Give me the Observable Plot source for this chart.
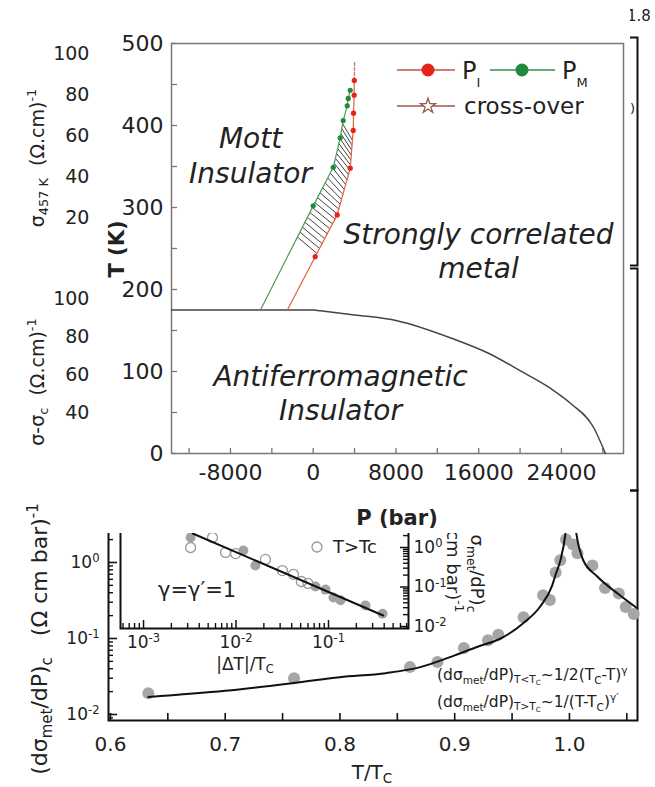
<!DOCTYPE html>
<html>
<head>
<meta charset="utf-8">
<script src="https://cdn.jsdelivr.net/npm/d3@7"></script>
<script src="https://cdn.jsdelivr.net/npm/@observablehq/plot@0.6"></script>
<style>
  body { margin: 0; background: #fff; }
  #fig { position: relative; width: 655px; height: 787px; overflow: hidden; background: #fff;
         font-family: "DejaVu Sans", sans-serif; color: #222; }
  .lbl { position: absolute; white-space: nowrap; line-height: 1; }
  .sub { font-size: 0.68em; vertical-align: -0.32em; line-height: 0; }
  .sup { font-size: 0.68em; vertical-align: 0.62em; line-height: 0; }
</style>
</head>
<body>
<div id="fig"></div>
<script>
// ---------------- data ----------------
// Phase diagram: pressure (bar) and temperature (K)
const pressureTickLabels = [-8000, 0, 8000, 16000, 24000];
const pressureTicks = [-12000, -8000, -4000, 0, 4000, 8000, 12000, 16000, 20000, 24000, 28000];
const tempTickLabels = [0, 100, 200, 300, 400, 500];
const tempTicks = [0, 50, 100, 150, 200, 250, 300, 350, 400, 450, 500];

// P_M (metal spinodal, green) and P_I (insulator spinodal, red)
const pmP = [-5100, 0, 1940, 2610, 2900, 3290, 3390, 3580];
const pmT = [175, 302, 349, 385, 406, 424, 433, 443];
const piP = [-2500, 190, 2320, 3580, 3870, 3900, 3960, 3970];
const piT = [175, 240, 291, 348, 394, 415, 437, 455];
// cross-over above the critical end point
const crossP = [3970, 3990, 4000];
const crossT = [455, 467, 479];
// antiferromagnetic boundary
const afP = [-13700, 0, 700, 4000, 8100, 13500, 17000, 20000, 23000, 24900, 27100, 28250];
const afT = [175, 175, 174, 169, 162, 140, 122, 101, 79, 61, 32, 0];
// temperatures where the coexistence band is hatched
const hatchT = [264, 270, 276, 282, 288, 294, 300, 306, 312, 318, 324, 330,
                336, 342, 348, 354, 360, 366, 372, 378, 384, 390, 396, 402];

// Background panels (conductivity axes)
const sigmaTicks = [0, 200, 400, 600, 800, 1000];
const deltaSigmaTicks = [400, 600, 800, 1000];

// Critical slope of the metallic conductivity vs reduced temperature
const ratioTicks = [0.6, 0.7, 0.8, 0.9, 1.0];
const ratioMinorTicks = [0.6, 0.65, 0.7, 0.75, 0.8, 0.85, 0.9, 0.95, 1.0, 1.05];
const slopeTicks = [0.01, 0.1, 1];
const ratioT = [0.633, 0.760, 0.861, 0.885, 0.908, 0.929, 0.938, 0.960, 0.977, 0.983,
                0.988, 0.992, 0.997, 1.003, 1.007, 1.020, 1.031, 1.043, 1.049, 1.056];
const slopeV = [0.019, 0.030, 0.042, 0.049, 0.075, 0.095, 0.112, 0.19, 0.37, 0.32,
                0.74, 1.07, 2.0, 1.72, 1.32, 0.91, 0.46, 0.39, 0.26, 0.21];
const fitLowT = [0.633, 0.70, 0.76, 0.80, 0.84, 0.87, 0.90, 0.92, 0.94, 0.96, 0.975, 0.985, 0.988, 0.992, 0.9965, 0.998];
const fitLowV = [0.0170, 0.0205, 0.026, 0.031, 0.035, 0.042, 0.060, 0.078, 0.10, 0.16, 0.27, 0.50, 0.70, 1.05, 2.4, 4];
const fitHighT = [1.004, 1.006, 1.012, 1.024, 1.042, 1.059];
const fitHighV = [4, 2.4, 1.07, 0.66, 0.39, 0.25];

// Inset: log-log vs |ΔT|/Tc
const gapTicks = [0.001, 0.01, 0.1];
const belowGap = [0.00323, 0.0120, 0.0162, 0.0724, 0.0929, 0.113, 0.135, 0.251, 0.384];
const belowSlope = [1.79, 0.84, 0.35, 0.103, 0.086, 0.054, 0.046, 0.034, 0.021];
const aboveGap = [0.00323, 0.00557, 0.0077, 0.0099, 0.0208, 0.0317, 0.0418, 0.0509, 0.060];
const aboveSlope = [1.0, 1.79, 0.75, 0.70, 0.50, 0.26, 0.21, 0.138, 0.123];
const fitGap = [0.0034, 0.39];
const fitSlope = [2.26, 0.019];

// ---------------- helpers ----------------
const fig = document.getElementById("fig");
const zip = (a, b) => a.map((v, i) => [v, b[i]]);
const isDecade = v => Math.abs(Math.log10(v) - Math.round(Math.log10(v))) < 1e-9;
const powLabel = v => "10^" + Math.round(Math.log10(v));

function baseStyle(size, bg = "transparent") {
  return { fontFamily: "DejaVu Sans", fontSize: size + "px", color: "#222", background: bg, overflow: "visible" };
}
function place(el, left, top) {
  el.style.position = "absolute";
  el.style.left = left + "px";
  el.style.top = top + "px";
  fig.appendChild(el);
  return el;
}
// turn "10^-2" tick strings into a base with a raised exponent
function superscripts(svg) {
  svg.querySelectorAll("text").forEach(t => {
    const m = t.textContent.match(/^10\^(.+)$/);
    if (!m) return;
    t.textContent = "10";
    const sp = document.createElementNS("http://www.w3.org/2000/svg", "tspan");
    sp.setAttribute("dy", "-0.5em");
    sp.setAttribute("font-size", "0.68em");
    sp.textContent = m[1];
    t.appendChild(sp);
  });
  return svg;
}
function label(html, x, y, { size = 20, anchor = "middle", rotate = 0, weight = "normal", italic = false, align = "left", lineHeight = null } = {}) {
  const d = document.createElement("div");
  d.className = "lbl";
  d.innerHTML = html;
  d.style.left = x + "px";
  d.style.top = y + "px";
  d.style.fontSize = size + "px";
  d.style.fontWeight = weight;
  d.style.textAlign = align;
  if (italic) d.style.fontStyle = "italic";
  if (lineHeight) d.style.lineHeight = lineHeight + "px";
  const tx = anchor === "start" ? "0" : anchor === "end" ? "-100%" : "-50%";
  d.style.transform = `translate(${tx},-50%)` + (rotate ? ` rotate(${rotate}deg)` : "");
  fig.appendChild(d);
  return d;
}

// ---------------- background conductivity panels ----------------
const sigmaPanel = Plot.plot({
  width: 655, height: 248, marginLeft: 108, marginRight: 18, marginTop: 10, marginBottom: 10,
  x: { domain: [0, 1], axis: null },
  y: { domain: [-34, 1078], axis: null },
  style: baseStyle(19),
  marks: [
    Plot.frame({ stroke: "#111", strokeWidth: 2 }),
    Plot.axisY({ ticks: sigmaTicks, tickSize: 0, tickPadding: 7, label: null, tickFormat: d => String(d) })
  ]
});
place(sigmaPanel, 0, 27);

const deltaPanel = Plot.plot({
  width: 655, height: 242, marginLeft: 108, marginRight: 18, marginTop: 10, marginBottom: 10,
  x: { domain: [0, 1], axis: null },
  y: { domain: [-10.5, 1158], axis: null },
  style: baseStyle(19),
  marks: [
    Plot.frame({ stroke: "#111", strokeWidth: 2 }),
    Plot.axisY({ ticks: deltaSigmaTicks, tickSize: 0, tickPadding: 7, label: null, tickFormat: d => String(d) })
  ]
});
place(deltaPanel, 0, 258);

label('σ<span class="sub">457 K</span>&nbsp;&nbsp;(Ω.cm)<span class="sup">-1</span>', 37, 158, { size: 19, rotate: -90 });
label('σ-σ<span class="sub">c</span>&nbsp;&nbsp;(Ω.cm)<span class="sup">-1</span>', 37, 382, { size: 19, rotate: -90 });
label("1.8", 627, 16, { size: 15, anchor: "start" });
label(")", 630, 108, { size: 13, anchor: "start" });

// ---------------- critical slope vs T/Tc ----------------
const slopeDomain = [Math.pow(10, -2.079), Math.pow(10, 0.947)];
const slopeMinor = d3.scaleLog().domain(slopeDomain).ticks();
const mainFrameW = 655 - 108 - 18, mainFrameH = 317 - 20 - 67;
const slopePlot = Plot.plot({
  width: 655, height: 317, marginLeft: 108, marginRight: 18, marginTop: 20, marginBottom: 67,
  x: { type: "linear", domain: [0.5983, 1.0593], axis: null },
  y: { type: "log", domain: slopeDomain, axis: null },
  style: baseStyle(20),
  marks: [
    Plot.frame({ stroke: "#111", strokeWidth: 2 }),
    Plot.tickX(ratioMinorTicks, { x: d => d, insetTop: mainFrameH - 7, stroke: "#111", strokeWidth: 1.6 }),
    Plot.tickY(slopeMinor.filter(isDecade), { y: d => d, insetRight: mainFrameW - 9, stroke: "#111", strokeWidth: 1.6 }),
    Plot.tickY(slopeMinor.filter(v => !isDecade(v)), { y: d => d, insetRight: mainFrameW - 5, stroke: "#111", strokeWidth: 1.4 }),
    Plot.axisX({ ticks: ratioTicks, tickSize: 0, tickPadding: 16, label: null, tickFormat: d3.format(".1f"), fontSize: 20 }),
    Plot.axisY({ ticks: slopeTicks, tickSize: 0, tickPadding: 9, label: null, tickFormat: powLabel, fontSize: 17 }),
    Plot.dot(zip(ratioT, slopeV), { x: d => d[0], y: d => d[1], r: 6, fill: "#a6a6a6" }),
    Plot.line(zip(fitLowT, fitLowV), { x: d => d[0], y: d => d[1], stroke: "#111", strokeWidth: 2, curve: "monotone-x" }),
    Plot.line(zip(fitHighT, fitHighV), { x: d => d[0], y: d => d[1], stroke: "#111", strokeWidth: 2, curve: "monotone-x" })
  ]
});
place(superscripts(slopePlot), 0, 470);

// ---------------- inset: power law ----------------
const gapDomain = [Math.pow(10, -3.249), Math.pow(10, -0.135)];
const insetSlopeDomain = [Math.pow(10, -2.05), Math.pow(10, 0.81)];
const gapMinor = d3.scaleLog().domain(gapDomain).ticks();
const insetSlopeMinor = d3.scaleLog().domain(insetSlopeDomain).ticks();
const insetW = 420 - 20 - 112, insetH = 175 - 15 - 47;
const inset = Plot.plot({
  width: 420, height: 175, marginLeft: 20, marginRight: 112, marginTop: 15, marginBottom: 47,
  x: { type: "log", domain: gapDomain, axis: null },
  y: { type: "log", domain: insetSlopeDomain, axis: null },
  style: baseStyle(17),
  marks: [
    Plot.frame({ stroke: "#111", strokeWidth: 2 }),
    Plot.tickX(gapMinor.filter(isDecade), { x: d => d, insetTop: insetH - 8, stroke: "#111", strokeWidth: 1.5 }),
    Plot.tickX(gapMinor.filter(v => !isDecade(v)), { x: d => d, insetTop: insetH - 5, stroke: "#111", strokeWidth: 1.4 }),
    Plot.tickY(insetSlopeMinor.filter(isDecade), { y: d => d, insetLeft: insetW - 8, stroke: "#111", strokeWidth: 1.5 }),
    Plot.tickY(insetSlopeMinor.filter(v => !isDecade(v)), { y: d => d, insetLeft: insetW - 5, stroke: "#111", strokeWidth: 1.4 }),
    Plot.axisX({ ticks: gapTicks, tickSize: 0, tickPadding: 7, label: null, tickFormat: powLabel }),
    Plot.axisY({ anchor: "right", ticks: gapTicks.map(v => v * 10), tickSize: 0, tickPadding: 5, label: null, tickFormat: powLabel }),
    Plot.dot(zip(aboveGap, aboveSlope), { x: d => d[0], y: d => d[1], r: 5, stroke: "#999", strokeWidth: 1.3, fill: "none" }),
    Plot.dot(zip(belowGap, belowSlope), { x: d => d[0], y: d => d[1], r: 5, fill: "#a2a2a2" }),
    Plot.line(zip(fitGap, fitSlope), { x: d => d[0], y: d => d[1], stroke: "#111", strokeWidth: 2 })
  ]
});
place(superscripts(inset), 100, 500);

// inset legend for T > Tc
const insetKey = d3.create("svg").attr("width", 14).attr("height", 14);
insetKey.append("circle").attr("cx", 7).attr("cy", 7).attr("r", 5)
  .attr("fill", "none").attr("stroke", "#999").attr("stroke-width", 1.3);
place(insetKey.node(), 310, 540);
label("T&gt;Tc", 333, 547, { size: 18, anchor: "start" });
label("γ=γ′=1", 158, 590, { size: 21, anchor: "start" });
label('|ΔT|/T<span class="sub">C</span>', 245, 664, { size: 17 });
label('(dσ<span class="sub">met</span>/dP)<span class="sub">c</span><br>(Ω cm bar)<span class="sup">-1</span>',
      465, 558, { size: 18, rotate: 90, align: "right", lineHeight: 24 });

// scaling laws
label('(dσ<span class="sub">met</span>/dP)<span class="sub">T&lt;T<span class="sub">C</span></span>~1/2(T<span class="sub">C</span>-T)<span class="sup">γ</span>',
      437, 676, { size: 15.5, anchor: "start" });
label('(dσ<span class="sub">met</span>/dP)<span class="sub">T&gt;T<span class="sub">C</span></span>~1/(T-T<span class="sub">C</span>)<span class="sup">γ′</span>',
      437, 703, { size: 15.5, anchor: "start" });

label('T/T<span class="sub">C</span>', 372, 772, { size: 20 });
label('(dσ<span class="sub">met</span>/dP)<span class="sub">c</span>&nbsp;&nbsp;&nbsp;(Ω cm bar)<span class="sup">-1</span>',
      40, 639, { size: 22, rotate: -90 });

// ---------------- phase diagram ----------------
const pmAtT = d3.scaleLinear().domain(pmT).range(pmP);
const piAtT = d3.scaleLinear().domain(piT).range(piP);
const hatch = hatchT.map(t => ({ x1: pmAtT(t), y1: t, x2: piAtT(t - 20), y2: t - 20 }));
const phaseW = 540 - 81 - 7, phaseH = 533 - 43 - 80;
const phase = Plot.plot({
  width: 540, height: 533, marginLeft: 81, marginRight: 7, marginTop: 43, marginBottom: 80,
  x: { domain: [-13700, 30000], axis: null },
  y: { domain: [0, 500], axis: null },
  style: baseStyle(22, "#fff"),
  marks: [
    Plot.frame({ stroke: "#777", strokeWidth: 1.5 }),
    Plot.tickX(pressureTicks, { x: d => d, insetTop: phaseH - 5, stroke: "#777", strokeWidth: 1.3 }),
    Plot.tickY(tempTicks, { y: d => d, insetRight: phaseW - 6, stroke: "#777", strokeWidth: 1.3 }),
    Plot.axisX({ ticks: pressureTickLabels, tickSize: 0, tickPadding: 11, label: null,
                 tickFormat: d => (d < 0 ? "-" : "") + Math.abs(d) }),
    Plot.axisY({ ticks: tempTickLabels, tickSize: 0, tickPadding: 8, label: null, tickFormat: d => String(d) }),
    Plot.link(hatch, { x1: "x1", y1: "y1", x2: "x2", y2: "y2", stroke: "#444", strokeWidth: 1 }),
    Plot.line(zip(afP, afT), { x: d => d[0], y: d => d[1], stroke: "#444", strokeWidth: 1.5, curve: "monotone-x" }),
    Plot.line(zip(pmP, pmT), { x: d => d[0], y: d => d[1], stroke: "#4f9a5c", strokeWidth: 1.2 }),
    Plot.line(zip(piP, piT), { x: d => d[0], y: d => d[1], stroke: "#e0613f", strokeWidth: 1.2 }),
    Plot.line(zip(crossP, crossT), { x: d => d[0], y: d => d[1], stroke: "#c9877a", strokeWidth: 1.5, strokeDasharray: "3,2" }),
    Plot.dot(zip(pmP, pmT).slice(1), { x: d => d[0], y: d => d[1], r: 2.6, fill: "#1f8a3b" }),
    Plot.dot(zip(piP, piT).slice(1), { x: d => d[0], y: d => d[1], r: 2.6, fill: "#e5231b" }),
    Plot.text(["Mott\nInsulator"], { frameAnchor: "top-left", text: d => d, dx: 79, dy: 80, textAnchor: "middle",
      lineAnchor: "top", lineHeight: 1.25, fontSize: 28, fontStyle: "italic", fill: "#222" }),
    Plot.text(["Strongly correlated\nmetal"], { frameAnchor: "top-left", text: d => d, dx: 307, dy: 177, textAnchor: "middle",
      lineAnchor: "top", lineHeight: 1.2, fontSize: 28, fontStyle: "italic", fill: "#222" }),
    Plot.text(["Antiferromagnetic\nInsulator"], { frameAnchor: "top-left", text: d => d, dx: 169, dy: 319, textAnchor: "middle",
      lineAnchor: "top", lineHeight: 1.2, fontSize: 28, fontStyle: "italic", fill: "#222" })
  ]
});
place(phase, 90, 0);

label("T (K)", 117, 249, { size: 21, weight: "bold", rotate: -90 });
label("P (bar)", 397, 518, { size: 21, weight: "bold" });

// legend of the phase diagram
const leg = d3.create("svg").attr("width", 240).attr("height", 80).style("overflow", "visible");
const row1 = 20, row2 = 56;
leg.append("line").attr("x1", 7).attr("x2", 65).attr("y1", row1).attr("y2", row1).attr("stroke", "#c0504a").attr("stroke-width", 1.3);
leg.append("circle").attr("cx", 38).attr("cy", row1).attr("r", 6.5).attr("fill", "#e5231b");
const tI = leg.append("text").attr("x", 72).attr("y", row1 + 9).attr("font-size", 24).attr("fill", "#222").text("P");
tI.append("tspan").attr("dy", 8).attr("font-size", 13).text("I");
leg.append("line").attr("x1", 100).attr("x2", 165).attr("y1", row1).attr("y2", row1).attr("stroke", "#3a8a4a").attr("stroke-width", 1.3);
leg.append("circle").attr("cx", 132).attr("cy", row1).attr("r", 6.5).attr("fill", "#1f8a3b");
const tM = leg.append("text").attr("x", 172).attr("y", row1 + 9).attr("font-size", 24).attr("fill", "#222").text("P");
tM.append("tspan").attr("dy", 8).attr("font-size", 13).text("M");
leg.append("line").attr("x1", 7).attr("x2", 65).attr("y1", row2).attr("y2", row2).attr("stroke", "#9a5a4a").attr("stroke-width", 1.3);
leg.append("path").attr("transform", `translate(38,${row2})`).attr("d", d3.symbol(d3.symbolStar, 70)())
  .attr("fill", "#fff").attr("stroke", "#9a5a4a").attr("stroke-width", 1.3);
leg.append("text").attr("x", 74).attr("y", row2 + 8).attr("font-size", 23).attr("fill", "#222").text("cross-over");
leg.attr("font-family", "DejaVu Sans");
place(leg.node(), 390, 50);
</script>
</body>
</html>
